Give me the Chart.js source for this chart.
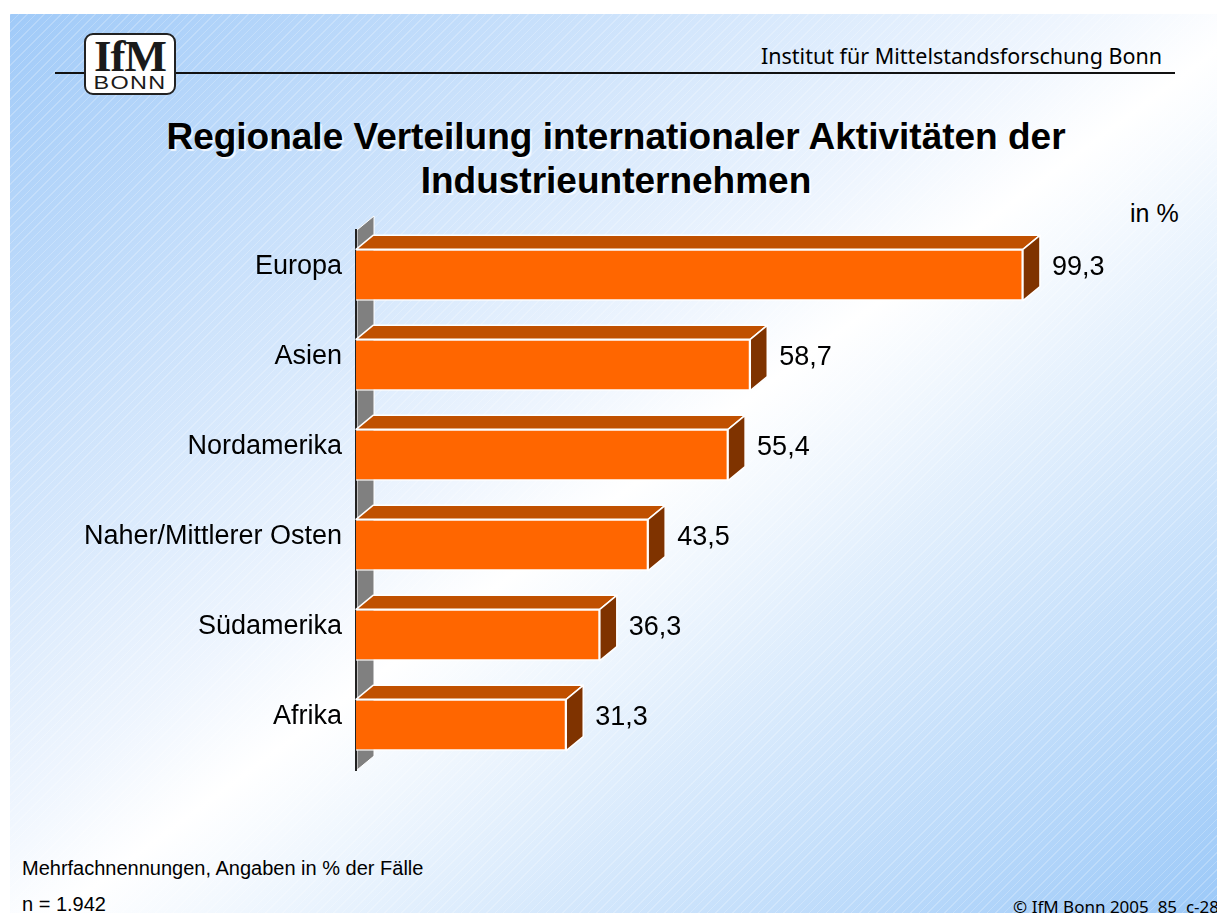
<!DOCTYPE html>
<html>
<head>
<meta charset="utf-8">
<script src="https://cdn.jsdelivr.net/npm/chart.js@4.4.1/dist/chart.umd.min.js"></script>
<style>
  body { margin: 0; background: #fff; width: 1217px; height: 913px; overflow: hidden; position: relative; font-family: "Liberation Sans", Arial, sans-serif; }
  #slide {
    position: absolute; left: 10px; top: 14px; width: 1207px; height: 899px;
    background:
      repeating-linear-gradient(135deg, rgba(255,255,255,0.22) 0px, rgba(255,255,255,0.22) 1px, rgba(255,255,255,0) 1px, rgba(255,255,255,0) 6px),
      linear-gradient(to bottom right, #a0caf8 0%, #eef5fe 44%, #ffffff 52%, #9cc9f8 100%);
  }
  #rule { position: absolute; left: 55px; top: 72px; width: 1120px; height: 2px; background: #111; }
  #logo {
    position: absolute; left: 84px; top: 33px; width: 88px; height: 58px;
    background: #fff; border: 2px solid #222; border-radius: 9px; text-align: center; overflow: hidden;
  }
  #logo .ifm { font-family: "Liberation Serif", "Times New Roman", serif; font-weight: bold; font-size: 45px; line-height: 38px; color: #1a1a1a; margin-top: 2px; letter-spacing: -1px; }
  #logo .bonn { font-size: 18px; line-height: 16px; color: #1a1a1a; letter-spacing: 1px; transform: scaleX(1.3); }
  .txt { position: absolute; white-space: nowrap; color: #000; }
  #inst { right: 55px; top: 41px; font-family: "Noto Sans", Tahoma, sans-serif; font-size: 21.5px; }
  #title { left: 0; width: 1232px; top: 115px; text-align: center; font-weight: bold; font-size: 37px; line-height: 44px; text-shadow: 2px 2px 1px rgba(255,255,255,0.8); }
  #unit { left: 1130px; top: 199px; font-size: 25px; }
  #note { left: 22px; top: 857px; font-size: 20px; }
  #n { left: 22px; top: 893px; font-size: 20px; }
  #copy { right: -2px; top: 895px; font-family: "Noto Sans", Tahoma, sans-serif; font-size: 17px; }
  #wrap { position: absolute; left: 0; top: 0; width: 1217px; height: 913px; }
</style>
</head>
<body>
<div id="slide"></div>
<div id="rule"></div>
<div id="logo"><div class="ifm">IfM</div><div class="bonn">BONN</div></div>
<div class="txt" id="inst">Institut für Mittelstandsforschung Bonn</div>
<div class="txt" id="title">Regionale Verteilung internationaler Aktivitäten der<br>Industrieunternehmen</div>
<div class="txt" id="unit">in %</div>
<div class="txt" id="note">Mehrfachnennungen, Angaben in % der Fälle</div>
<div class="txt" id="n">n = 1.942</div>
<div class="txt" id="copy">© IfM Bonn 2005&nbsp; 85&nbsp; c-28</div>
<div id="wrap"><canvas id="myChart"></canvas></div>
<script>
const categories = ['Europa', 'Asien', 'Nordamerika', 'Naher/Mittlerer Osten', 'Südamerika', 'Afrika'];
const values = [99.3, 58.7, 55.4, 43.5, 36.3, 31.3];

const DX = 17, DY = -14;

// gray back wall + 3d faces + value labels
const bars3d = {
    id: 'bars3d',
    beforeDraw(chart) {
        const ctx = chart.ctx;
        const a = chart.chartArea;
        const l = a.left + 1;
        ctx.save();
        ctx.beginPath();
        ctx.moveTo(l, a.top);
        ctx.lineTo(l + DX, a.top + DY);
        ctx.lineTo(l + DX, a.bottom + DY);
        ctx.lineTo(l, a.bottom);
        ctx.closePath();
        ctx.fillStyle = '#808080';
        ctx.fill();
        ctx.strokeStyle = '#ffffff';
        ctx.lineWidth = 1;
        ctx.stroke();
        ctx.restore();
    },
    afterDatasetsDraw(chart) {
        const ctx = chart.ctx;
        const meta = chart.getDatasetMeta(0);
        ctx.save();
        ctx.lineWidth = 1.5;
        ctx.strokeStyle = '#ffffff';
        ctx.lineJoin = 'round';
        meta.data.forEach((bar, i) => {
            const p = bar.getProps(['x', 'y', 'base', 'height'], true);
            const top = p.y - p.height / 2;
            const bottom = p.y + p.height / 2;
            const left = p.base;
            const right = p.x;
            // top face
            ctx.beginPath();
            ctx.moveTo(left, top);
            ctx.lineTo(left + DX, top + DY);
            ctx.lineTo(right + DX, top + DY);
            ctx.lineTo(right, top);
            ctx.closePath();
            ctx.fillStyle = '#c05000';
            ctx.fill();
            ctx.stroke();
            // side face
            ctx.beginPath();
            ctx.moveTo(right, top);
            ctx.lineTo(right + DX, top + DY);
            ctx.lineTo(right + DX, bottom + DY);
            ctx.lineTo(right, bottom);
            ctx.closePath();
            ctx.fillStyle = '#7f3300';
            ctx.fill();
            ctx.stroke();
            // value
            ctx.fillStyle = '#000';
            ctx.font = '27px "Liberation Sans", Arial, sans-serif';
            ctx.textAlign = 'left';
            ctx.textBaseline = 'middle';
            ctx.fillText(values[i].toLocaleString('de-DE', {minimumFractionDigits: 1}), right + DX + 12, p.y - 7);
        });
        ctx.restore();
    }
};

const ctx = document.getElementById('myChart').getContext('2d');
new Chart(ctx, {
    type: 'bar',
    data: {
        labels: categories,
        datasets: [{
            data: values,
            backgroundColor: '#ff6600',
            borderColor: '#ffffff',
            borderWidth: 1.5,
            categoryPercentage: 1,
            barPercentage: 0.57
        }]
    },
    options: {
        indexAxis: 'y',
        responsive: true,
        maintainAspectRatio: false,
        animation: false,
        layout: {
            padding: { top: 230, bottom: 143, left: 0, right: 55 }
        },
        scales: {
            x: {
                display: false,
                min: 0,
                max: 120
            },
            y: {
                grid: { display: false, drawTicks: false },
                border: { display: true, color: '#222222', width: 2 },
                ticks: {
                    color: '#000',
                    padding: 14,
                    labelOffset: -8,
                    font: { family: '"Liberation Sans", Arial, sans-serif', size: 27 }
                },
                afterFit(scale) {
                    scale.width = 356;
                }
            }
        },
        plugins: {
            legend: { display: false },
            tooltip: { enabled: false }
        }
    },
    plugins: [bars3d]
});
</script>
</body>
</html>
